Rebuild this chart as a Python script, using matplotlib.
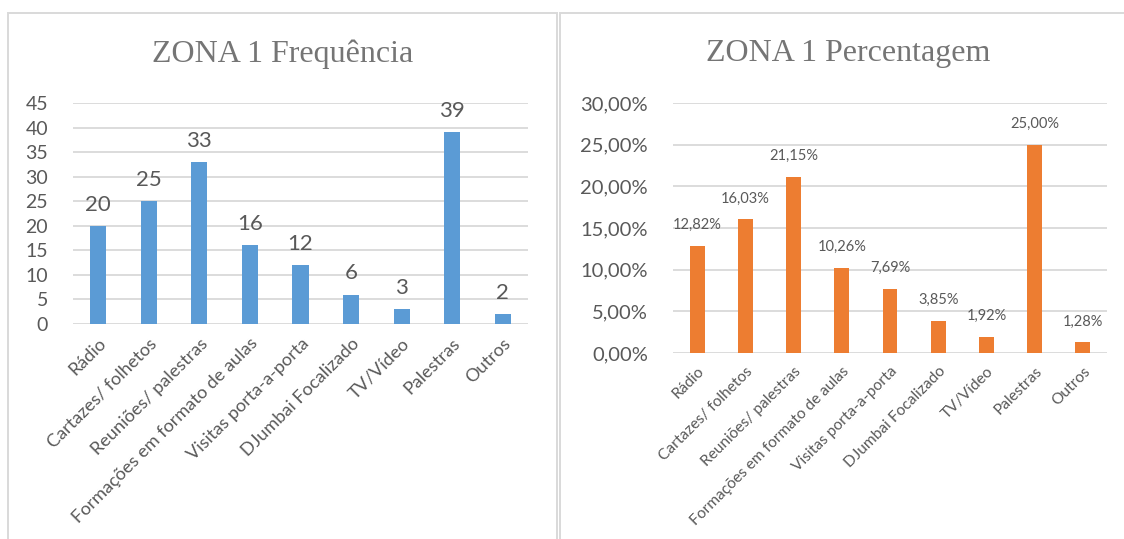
import matplotlib
matplotlib.use("Agg")
import matplotlib.pyplot as plt
from matplotlib.patches import Rectangle

categories = [
    "Rádio", "Cartazes/ folhetos", "Reuniões/ palestras",
    "Formações em formato de aulas", "Visitas porta-a-porta",
    "DJumbai Focalizado", "TV/Vídeo", "Palestras", "Outros",
]
frequencies = [20, 25, 33, 16, 12, 6, 3, 39, 2]
percentages = [12.82, 16.03, 21.15, 10.26, 7.69, 3.85, 1.92, 25.00, 1.28]
freq_ticks = [0, 5, 10, 15, 20, 25, 30, 35, 40, 45]
pct_ticks = [0, 5, 10, 15, 20, 25, 30]

BLUE = "#5B9BD5"
ORANGE = "#ED7D31"
TEXT = "#595959"
GRID = "#D9D9D9"
SANS = ["Lato", "DejaVu Sans"]
SERIF = ["Liberation Serif", "DejaVu Serif"]

W, H = 1124, 539
fig = plt.figure(figsize=(W / 100, H / 100), dpi=100)


def fx(px):
    return px / W


def fy(py):
    return 1 - py / H


# chart frames
for x0, x1 in [(8, 557), (560, 1160)]:
    fig.patches.append(Rectangle((fx(x0), fy(560)), fx(x1 - x0), (560 - 13) / H,
                                 transform=fig.transFigure, fill=False,
                                 edgecolor=GRID, linewidth=1.4))


def pct_label(v):
    return f"{v:.2f}".replace(".", ",") + "%"


def style(ax, ticks, ticklabels, ysize, xsize):
    ax.set_yticks(ticks)
    ax.set_yticklabels(ticklabels, fontsize=ysize, color=TEXT, family=SANS)
    ax.set_xticks(range(len(categories)))
    ax.set_xticklabels(categories, rotation=45, ha="right", rotation_mode="anchor",
                       fontsize=xsize, color=TEXT, family=SANS)
    ax.tick_params(axis="both", length=0)
    ax.tick_params(axis="y", pad=18)
    ax.tick_params(axis="x", pad=8)
    for s in ax.spines.values():
        s.set_visible(False)
    ax.grid(axis="y", color=GRID, linewidth=1.3)
    ax.set_axisbelow(True)
    ax.set_xlim(-0.5, len(categories) - 0.5)


# left: frequency
ax1 = fig.add_axes([fx(73), fy(324), fx(528 - 73), (324 - 103) / H])
bars = ax1.bar(range(len(categories)), frequencies, width=0.32, color=BLUE)
ax1.set_ylim(0, 45)
style(ax1, freq_ticks, [str(t) for t in freq_ticks], 14, 13.1)
for b, v in zip(bars, frequencies):
    ax1.annotate(str(v), (b.get_x() + b.get_width() / 2, v), xytext=(0, 8),
                 textcoords="offset points", ha="center", va="bottom",
                 fontsize=16, color=TEXT, family=SANS)
fig.text(fx(283), fy(54), "ZONA 1 Frequência", ha="center", va="center",
         fontsize=23, color="#757575", family=SERIF)

# right: percentage
ax2 = fig.add_axes([fx(673), fy(353), fx(1107 - 673), (353 - 103) / H])
bars = ax2.bar(range(len(categories)), percentages, width=0.31, color=ORANGE)
ax2.set_ylim(0, 30)
style(ax2, pct_ticks, [pct_label(t) for t in pct_ticks], 14.5, 11.2)
for b, v in zip(bars, percentages):
    ax2.annotate(pct_label(v), (b.get_x() + b.get_width() / 2, v), xytext=(0, 10),
                 textcoords="offset points", ha="center", va="bottom",
                 fontsize=10.5, color=TEXT, family=SANS)
fig.text(fx(848), fy(54), "ZONA 1 Percentagem", ha="center", va="center",
         fontsize=23, color="#757575", family=SERIF)

fig.savefig("out.png", dpi=100, facecolor="white")
